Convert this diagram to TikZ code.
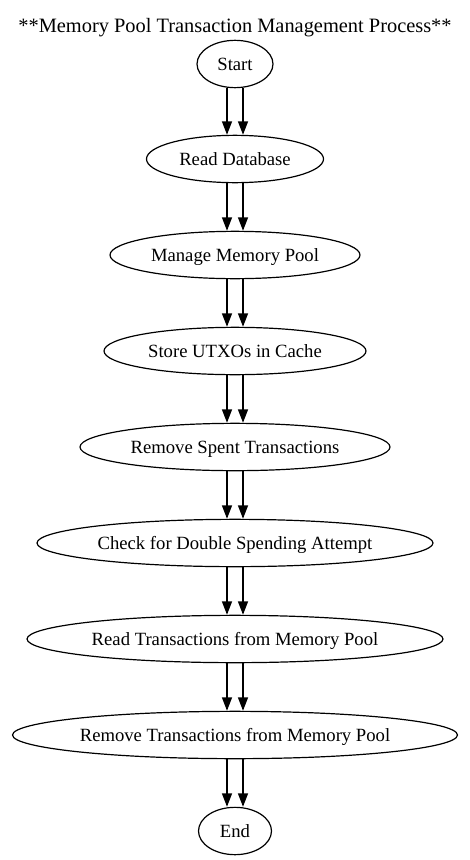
\documentclass[tikz,border=0pt]{standalone}
\usepackage{fontspec}
\setmainfont{Liberation Serif}
\usetikzlibrary{shapes.geometric,arrows.meta}
\begin{document}
\begin{tikzpicture}[x=0.75pt,y=-0.75pt,
  proc/.style={draw,ellipse,line width=0.9pt,inner sep=0pt,minimum height=35.5pt,
    font=\fontsize{14}{16}\selectfont,text height=9.3pt,text depth=0pt},
  arr/.style={line width=0.9pt,-{Triangle[length=10pt,width=7.5pt]}},
  ttl/.style={font=\fontsize{15.3}{17}\selectfont,anchor=base,inner sep=0pt}]
\useasboundingbox (0,0) rectangle (469,860);
\node[ttl] (title) at (235,32) {**Memory Pool Transaction Management Process**};
\node[proc,minimum width=57pt]     (start) at (235,64)  {Start};
\node[proc,minimum width=132.75pt] (db)    at (235,159) {Read Database};
\node[proc,minimum width=187.5pt]  (mp)    at (235,255) {Manage Memory Pool};
\node[proc,minimum width=196.5pt]  (utxo)  at (235,351) {Store UTXOs in Cache};
\node[proc,minimum width=232.5pt]  (spent) at (235,447) {Remove Spent Transactions};
\node[proc,minimum width=297pt]    (dbl)   at (235,543) {Check for Double Spending Attempt};
\node[proc,minimum width=312pt]    (rtx)   at (235,639) {Read Transactions from Memory Pool};
\node[proc,minimum width=333.75pt] (rmtx)  at (235,735) {Remove Transactions from Memory Pool};
\node[proc,minimum width=54.75pt]  (end)   at (235,831) {End};
\foreach \a/\b in {start/db,db/mp,mp/utxo,utxo/spent,spent/dbl,dbl/rtx,rtx/rmtx,rmtx/end}{
  \draw[arr] ([xshift=-6pt]\a.south) -- ([xshift=-6pt]\b.north);
  \draw[arr] ([xshift=6pt]\a.south) -- ([xshift=6pt]\b.north);
}
\end{tikzpicture}
\end{document}
